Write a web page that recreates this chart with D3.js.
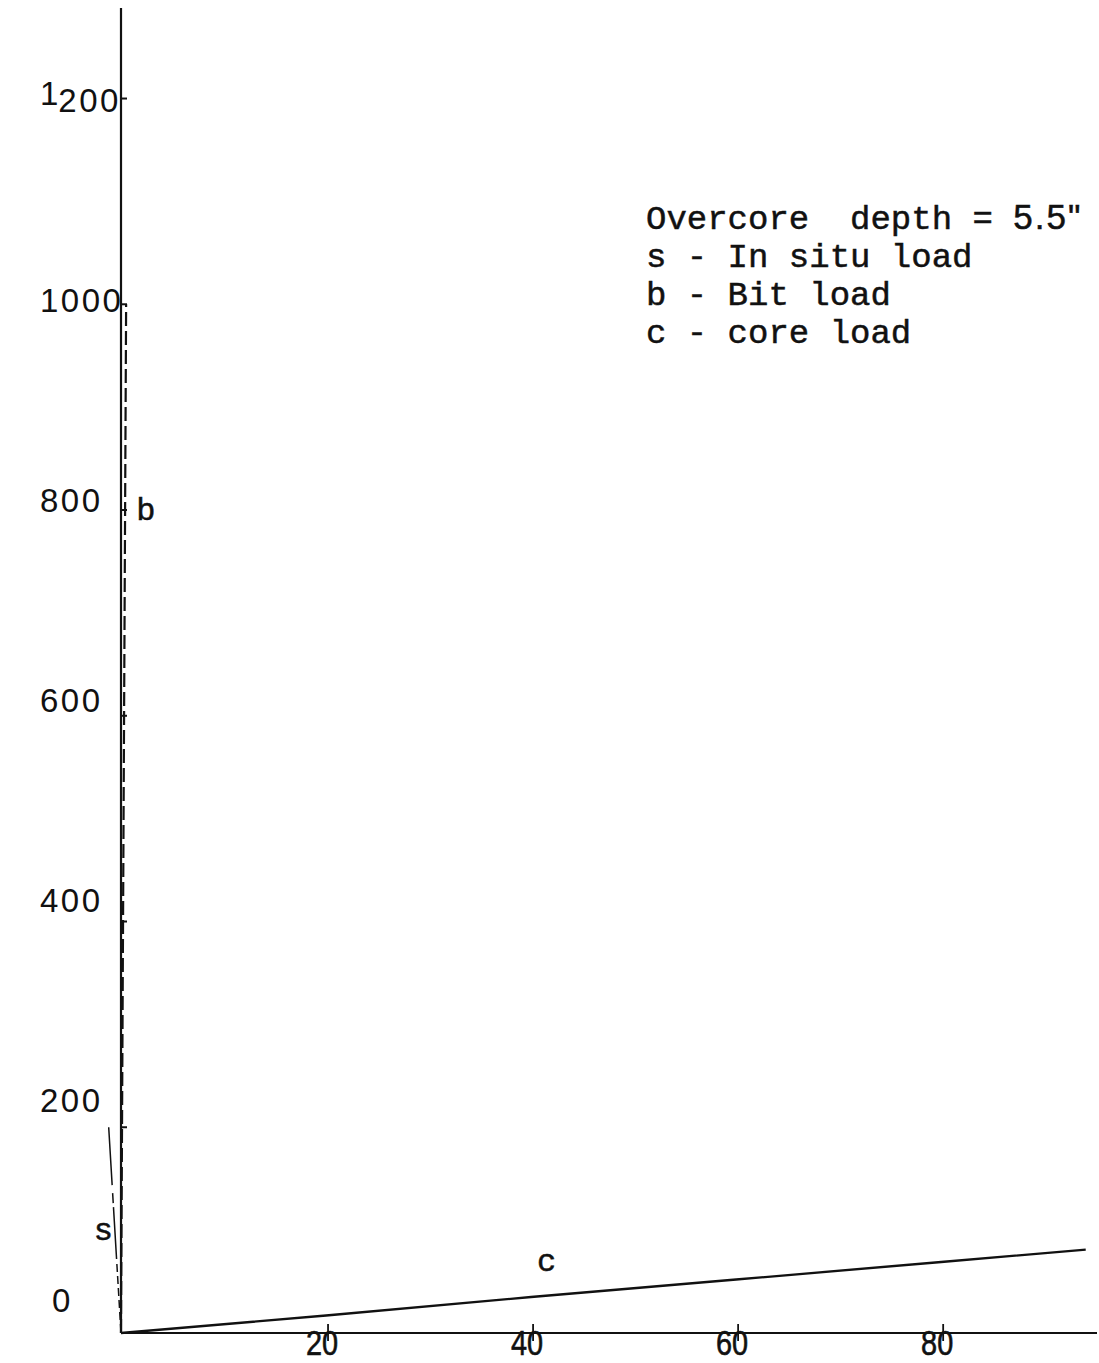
<!DOCTYPE html>
<html>
<head>
<meta charset="utf-8">
<script src="https://cdn.jsdelivr.net/npm/d3@7"></script>
<style>
  html, body { margin: 0; padding: 0; background: #fff; }
  svg { display: block; }
</style>
</head>
<body>
<script>
// Load (vertical) against displacement (horizontal) for a 5.5" overcore.
const yTickValues = [0, 200, 400, 600, 800, 1000, 1200];
const yTickLabels = ["0", "200", "400", "600", "800", "1000", "1200"];
const xTickValues = [20, 40, 60, 80];
const xTickLabels = ["20", "40", "60", "80"];

// s - in situ load
const inSitu = [[0, 0], [-0.6, 100], [-1.2, 200]];
// b - bit load
const bitLoad = [[0, 0], [0.1, 200], [0.2, 400], [0.3, 600], [0.4, 800], [0.5, 1000]];
// c - core load
const coreLoad = [[0, 0], [20, 17], [40, 35], [60, 52], [80, 69], [94.1, 81]];

const legendLines = ["s - In situ load", "b - Bit load", "c - core load"];

const W = 1099, H = 1363;
const svg = d3.select("body").append("svg").attr("width", W).attr("height", H);

const x = d3.scaleLinear().domain([0, 95.2]).range([121, 1097]);
const y = d3.scaleLinear().domain([0, 1288]).range([1333, 8]);
// the typed figures down the side run on a slightly tighter pitch than the ruled ticks
const yLabelPos = d3.scaleLinear().domain([0, 1200]).range([1300, 100]);

const ink = "#111";

// axes
svg.append("line").attr("x1", x(0)).attr("x2", x(0)).attr("y1", y(0)).attr("y2", y(1288))
  .attr("stroke", ink).attr("stroke-width", 2.2);
svg.append("line").attr("x1", x(0)).attr("x2", x(95.2)).attr("y1", y(0)).attr("y2", y(0))
  .attr("stroke", ink).attr("stroke-width", 2);

// y ticks
svg.append("g").selectAll("line").data(yTickValues.filter(v => v > 0)).join("line")
  .attr("x1", x(0)).attr("x2", x(0) + 6)
  .attr("y1", d => y(d)).attr("y2", d => y(d))
  .attr("stroke", ink).attr("stroke-width", 2);

// y tick labels
const yl = svg.append("g").attr("font-family", "'Liberation Sans', Arial, sans-serif")
  .attr("font-size", 33).attr("letter-spacing", 2.5).attr("fill", ink);
yTickValues.forEach((v, i) => {
  const t = yl.append("text").attr("x", v === 0 ? 52 : 40).attr("y", yLabelPos(v) + 12);
  const s = yTickLabels[i];
  if (v === 1200) {
    // the leading figure was struck a little high
    t.append("tspan").attr("dy", -7).attr("letter-spacing", 0).text(s[0]);
    t.append("tspan").attr("dy", 7).text(s.slice(1));
  } else {
    t.text(s);
  }
});

// x ticks
svg.append("g").selectAll("line").data(xTickValues).join("line")
  .attr("x1", d => x(d) + 2).attr("x2", d => x(d) + 2)
  .attr("y1", y(0) - 9).attr("y2", y(0) + 8)
  .attr("stroke", ink).attr("stroke-width", 1.8);

// x tick labels (narrow lettering)
svg.append("g").selectAll("text").data(xTickValues).join("text")
  .attr("transform", d => `translate(${x(d) - 4},${y(0) + 22}) scale(0.85,1.05)`)
  .attr("text-anchor", "middle")
  .attr("font-family", "'Liberation Sans', Arial, sans-serif")
  .attr("font-size", 34).attr("fill", ink)
  .attr("stroke", ink).attr("stroke-width", 0.6)
  .text((d, i) => xTickLabels[i]);

const line = d3.line().x(d => x(d[0])).y(d => y(d[1]));

svg.append("path").datum(coreLoad).attr("d", line)
  .attr("fill", "none").attr("stroke", ink).attr("stroke-width", 2.3);
svg.append("path").datum(bitLoad).attr("d", line)
  .attr("fill", "none").attr("stroke", ink).attr("stroke-width", 2.2)
  .attr("stroke-dasharray", "14,5");
// drawn from its upper end down so the pen starts solid
svg.append("path").datum(inSitu.slice().reverse()).attr("d", line)
  .attr("fill", "none").attr("stroke", ink).attr("stroke-width", 1.5)
  .attr("stroke-dasharray", "58,8,10,4,52,5,8,4,8,4,8,4,8,4,8,4,8,4");

// curve letters
const mono = "'Liberation Mono', 'Courier New', monospace";
const letters = svg.append("g").attr("font-family", mono).attr("font-size", 32)
  .attr("fill", ink).attr("stroke", ink).attr("stroke-width", 0.5);
letters.append("text").attr("x", x(0.5) + 10).attr("y", y(800) + 10).text("b");
letters.append("text").attr("x", x(40) + 6).attr("y", y(35) - 26).text("c");
letters.append("text").attr("x", x(-0.6) - 21).attr("y", y(100) + 10).text("s");

// notes block
const notes = svg.append("g").attr("font-family", mono).attr("font-size", 34)
  .attr("fill", ink).attr("stroke", ink).attr("stroke-width", 0.5);
const head = notes.append("text").attr("x", 646).attr("y", 229).attr("xml:space", "preserve");
head.append("tspan").text("Overcore  depth = ");
head.append("tspan").attr("font-family", "'Liberation Sans', Arial, sans-serif")
  .attr("font-size", 35).attr("letter-spacing", 2).text("5.5\"");
notes.selectAll("text.row").data(legendLines).join("text").attr("class", "row")
  .attr("x", 646).attr("y", (d, i) => 267 + i * 38)
  .attr("xml:space", "preserve").text(d => d);
</script>
</body>
</html>
